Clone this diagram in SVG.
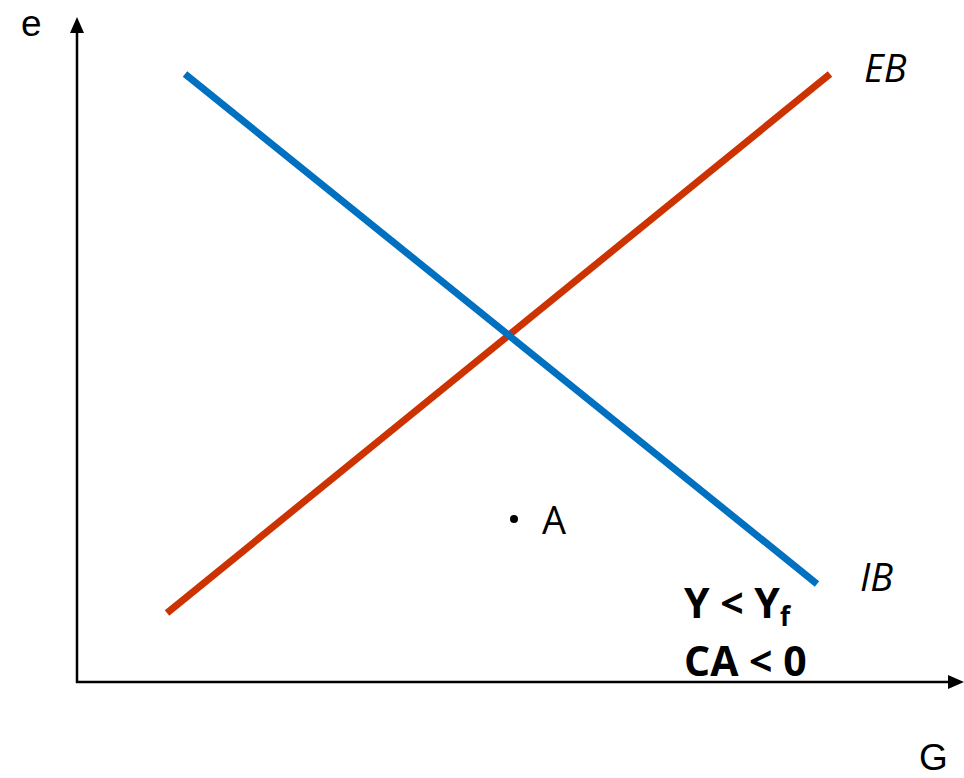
<svg xmlns="http://www.w3.org/2000/svg" width="964" height="778" viewBox="0 0 964 778">
<defs>
<style>
.t{font-family:"Open Sans","Noto Sans",sans-serif;font-size:38px;fill:#000}
.ls{font-family:"Liberation Sans",Arial,sans-serif;font-size:37px}
.i{font-style:italic}
.b{font-weight:bold;font-size:41px}
.ax{stroke:#000;stroke-width:2.5;fill:none}
</style>
</defs>
<rect width="964" height="778" fill="#fff"/>
<g id="axes">
<line class="ax" x1="77" y1="683" x2="77" y2="28"/>
<path d="M77,17 L70,33 L84,33 z" fill="#000"/>
<line class="ax" x1="76" y1="682" x2="950" y2="682"/>
<path d="M964,682 L948,675 L948,689 z" fill="#000"/>
</g>
<g id="connectors">
<line id="EB-line" x1="167" y1="613" x2="830" y2="74" stroke="#CC3300" stroke-width="7"/>
<line id="IB-line" x1="185" y1="74" x2="817" y2="584" stroke="#0070C0" stroke-width="7"/>
</g>
<g id="labels">
<text class="t ls" x="21" y="36">e</text>
<text class="t ls" x="919" y="770">G</text>
<text class="t i" x="864" y="82">EB</text>
<text class="t i" x="860" y="591">IB</text>
<circle cx="514" cy="519" r="4" fill="#000"/>
<text class="t" x="542" y="534">A</text>
<text class="t b" x="684" y="618">Y &lt; Y<tspan font-size="26" dy="8">f</tspan></text>
<text class="t b" x="684" y="676">CA &lt; 0</text>
</g>
</svg>
